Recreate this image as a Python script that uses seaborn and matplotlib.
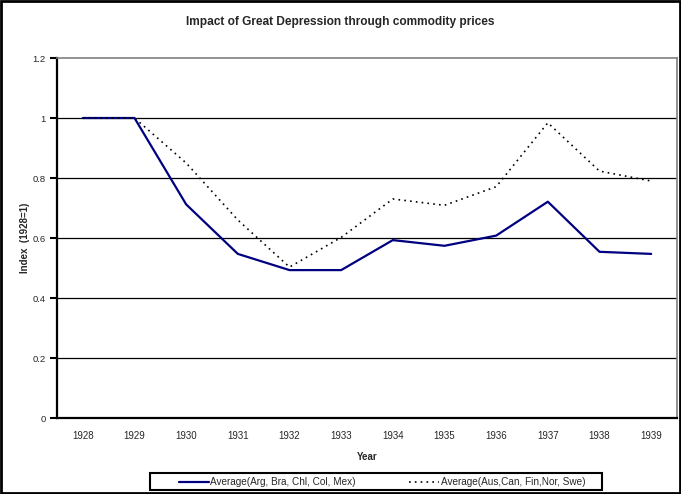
import numpy as np
import pandas as pd
import matplotlib
matplotlib.use("Agg")
import matplotlib.pyplot as plt
import seaborn as sns
from matplotlib.patches import Rectangle

# data
years = ["1928", "1929", "1930", "1931", "1932", "1933",
         "1934", "1935", "1936", "1937", "1938", "1939"]
latam = [1.0, 1.0, 0.712, 0.547, 0.493, 0.493, 0.593, 0.574, 0.608, 0.721, 0.554, 0.547]
nordic = [1.0, 1.0, 0.85, 0.66, 0.503, 0.602, 0.73, 0.709, 0.771, 0.984, 0.823, 0.79]
lab_latam = "Average(Arg, Bra, Chl, Col, Mex)"
lab_nordic = "Average(Aus,Can, Fin,Nor, Swe)"

df = pd.DataFrame({"pos": np.arange(len(years)), "latam": latam, "nordic": nordic})

sns.set_style("white")
plt.rcParams["font.family"] = ["Liberation Sans", "DejaVu Sans"]

fig = plt.figure(figsize=(6.81, 4.94), dpi=100)
ax = fig.add_axes([57/681, 76/494, 620/681, 360/494])

sns.lineplot(data=df, x="pos", y="latam", ax=ax, color="#000080", lw=1.6, label=lab_latam)
sns.lineplot(data=df, x="pos", y="nordic", ax=ax, color="black", lw=1.2,
             linestyle=(0, (1, 2.5)), label=lab_nordic)

ax.set_xlim(-0.5, len(years) - 0.5)
ax.set_ylim(0, 1.2)
ax.set_yticks(np.arange(0, 1.21, 0.2))
ax.set_yticklabels(["0", "0.2", "0.4", "0.6", "0.8", "1", "1.2"], fontsize=6.8)
for yv in np.arange(0.2, 1.01, 0.2):
    ax.axhline(yv, color="black", lw=0.9, zorder=0)

ax.set_xticks(np.arange(len(years)))
ax.set_xticklabels(years, fontsize=7)
ax.set_xticks(np.arange(-0.5, len(years)), minor=True)
ax.tick_params(axis="x", which="major", length=0, pad=9)
ax.tick_params(axis="x", which="minor", length=4, width=1.5, direction="out", color="black")
ax.tick_params(axis="y", length=5, width=1.5, direction="out", color="black", left=True, pad=3)

for s in ["top", "right"]:
    ax.spines[s].set_color("#808080")
    ax.spines[s].set_linewidth(1.2)
for s in ["left", "bottom"]:
    ax.spines[s].set_color("black")
    ax.spines[s].set_linewidth(1.6)

ax.set_xlabel("Year", fontsize=7, fontweight="bold", labelpad=8)
ax.set_ylabel("Index  (1928=1)", fontsize=7, fontweight="bold", labelpad=2)
fig.text(0.5, 1 - 22/494, "Impact of Great Depression through commodity prices",
         ha="center", va="center", fontsize=8.6, fontweight="bold")

# legend entries without frame, box drawn separately like the Excel original
ax.get_legend().remove()
h, l = ax.get_legend_handles_labels()
fig.legend(h, l, loc="center", ncol=2,
           bbox_to_anchor=(382/681, 1 - 482/494),
           fontsize=7.2, frameon=False, handlelength=3.0,
           handletextpad=0.2, columnspacing=5.3, borderpad=0)
fig.patches.append(Rectangle((150/681, 1 - 490/494), 452/681, 17/494,
                             transform=fig.transFigure, fill=False,
                             edgecolor="black", lw=1.5))

fig.patches.append(Rectangle((0.002, 0.002), 0.996, 0.996, transform=fig.transFigure,
                             fill=False, edgecolor="black", lw=2))

fig.savefig("out.png", dpi=100)
